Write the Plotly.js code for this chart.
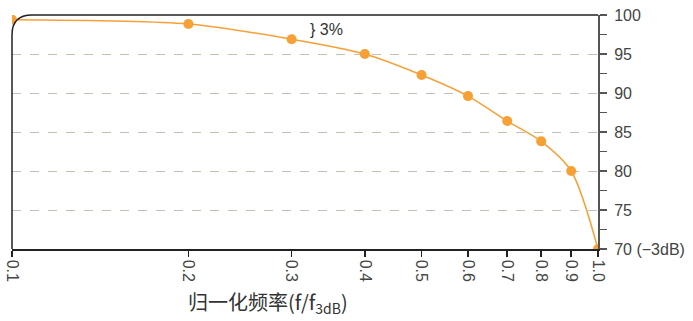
<!DOCTYPE html>
<html>
<head>
<meta charset="utf-8">
<script src="https://cdn.plot.ly/plotly-3.0.1.min.js"></script>
<style>html,body{margin:0;padding:0;background:#fff;}#chart{width:693px;height:321px;}</style>
</head>
<body>
<div id="chart"></div>
<script>
const freq = [0.1, 0.2, 0.3, 0.4, 0.5, 0.6, 0.7, 0.8, 0.9, 1.0];
const pct = [99.4, 98.85, 96.9, 95.0, 92.3, 89.6, 86.4, 83.8, 80.0, 70.0];
const xTickVals = [0.1, 0.2, 0.3, 0.4, 0.5, 0.6, 0.7, 0.8, 0.9, 1.0];
const xTickText = ['0.1', '0.2', '0.3', '0.4', '0.5', '0.6', '0.7', '0.8', '0.9', '1.0'];
const yTickVals = [70, 75, 80, 85, 90, 95, 100];
const yTickText = ['70 (\u22123dB)', '75', '80', '85', '90', '95', '100'];
const xTitle = '归一化频率(f/f<sub>3dB</sub>)';
const noteText = '} 3%';

const orange = '#f7a035';
const font = 'Liberation Sans, Arial, sans-serif';

const trace = {
  x: freq, y: pct, type: 'scatter', mode: 'lines+markers',
  line: {color: orange, width: 1.5, shape: 'spline', smoothing: 0.8},
  marker: {color: orange, size: 10},
  cliponaxis: true, hoverinfo: 'none'
};

const layout = {
  width: 693, height: 321,
  margin: {l: 12, r: 95, t: 15, b: 72},
  paper_bgcolor: '#fff', plot_bgcolor: '#fff',
  showlegend: false,
  font: {family: font, color: '#333'},
  xaxis: {
    type: 'log', range: [-1, 0],
    tickmode: 'array', tickvals: xTickVals, ticktext: xTickText,
    tickangle: 90, ticks: 'outside', ticklen: 6, tickcolor: '#222', tickwidth: 1.5,
    showline: true, linecolor: '#222', linewidth: 1.5,
    showgrid: false, zeroline: false,
    tickfont: {size: 16, color: '#444', family: font}
  },
  yaxis: {
    side: 'right', range: [70, 100],
    tickmode: 'array', tickvals: yTickVals, ticktext: yTickText,
    ticks: 'outside', ticklen: 7, tickcolor: '#555', tickwidth: 1.5,
    showline: true, linecolor: '#555', linewidth: 2,
    showgrid: true, gridcolor: '#c9bdb0', griddash: 'dash', gridwidth: 1,
    zeroline: false,
    minor: {tickmode: 'linear', tick0: 70, dtick: 2.5, ticks: 'outside', ticklen: 7, tickcolor: '#555', tickwidth: 1.5, showgrid: false},
    tickfont: {size: 16, color: '#444', family: font},
    ticklabelstandoff: 4
  },
  shapes: [{
    type: 'path', xref: 'paper', yref: 'paper',
    path: 'M 0,0 L 0,0.915 Q 0,1 0.034,1 L 1,1',
    line: {color: '#222', width: 1.5}
  }],
  annotations: [
    {text: xTitle, xref: 'paper', yref: 'paper', x: 0.437, y: 0, yshift: -36, xanchor: 'center', yanchor: 'top',
     showarrow: false, font: {size: 20, color: '#333', family: 'Noto Sans CJK SC, ' + font}},
    {text: noteText, xref: 'x', yref: 'y', x: Math.log10(0.32), y: 98.1, xanchor: 'left', yanchor: 'middle',
     showarrow: false, font: {size: 16, color: '#333', family: font}}
  ]
};

Plotly.newPlot('chart', [trace], layout, {staticPlot: true, displayModeBar: false});
</script>
</body>
</html>
